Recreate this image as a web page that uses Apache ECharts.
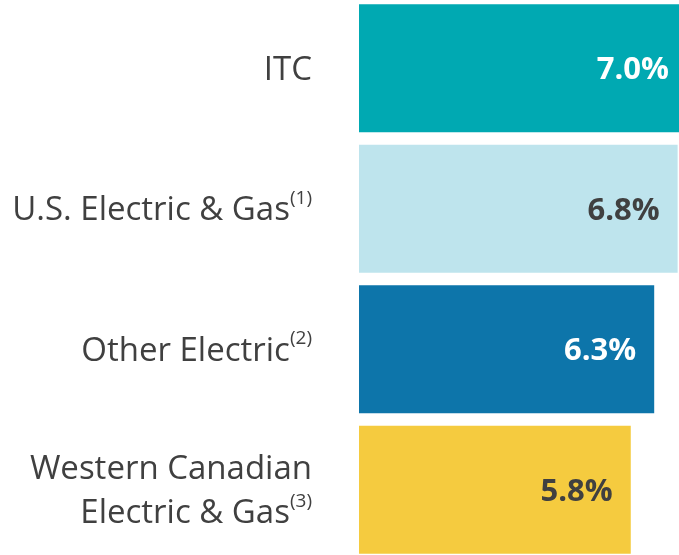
<!DOCTYPE html>
<html>
<head>
<meta charset="utf-8">
<script src="https://cdn.jsdelivr.net/npm/echarts@6/dist/echarts.min.js"></script>
<style>html,body{margin:0;padding:0;background:#fff}#c{width:679px;height:555px}</style>
</head>
<body>
<div id="c"></div>
<script>
const categories = ['ITC', 'U.S. Electric & Gas', 'Other Electric', 'Western Canadian\nElectric & Gas'];
const notes = ['', '(1)', '(2)', '(3)'];
const values = [7.0, 6.8, 6.3, 5.8];
const barColors = ['#00A9B2', '#BEE4ED', '#0D75AA', '#F5CB3F'];
const labelColors = ['#FFFFFF', '#404040', '#FFFFFF', '#404040'];

const chart = echarts.init(document.getElementById('c'));
chart.setOption({
  animation: false,
  backgroundColor: '#fff',
  grid: { left: 359, right: -8, top: -2, bottom: -5, containLabel: false, outerBoundsMode: 'none' },
  xAxis: { type: 'value', min: 0, max: 7, show: false },
  yAxis: {
    type: 'category', inverse: true, data: categories,
    axisLine: { show: false }, axisTick: { show: false },
    axisLabel: {
      margin: 47,
      padding: [4, 0, 0, 0],
      formatter: function (v, i) {
        const lines = v.split('\n');
        const note = notes[i];
        return lines.map(function (l, k) {
          let s = '{a|' + l + '}';
          if (k === lines.length - 1 && note) s += '{s|' + note + '}';
          return s;
        }).join('\n');
      },
      rich: {
        a: { fontFamily: 'Open Sans', fontSize: 33, color: '#404040', lineHeight: 44, align: 'right' },
        s: { fontFamily: 'Open Sans', fontSize: 19, color: '#404040', lineHeight: 31, verticalAlign: 'top', align: 'right' }
      }
    }
  },
  series: [{
    type: 'bar',
    barWidth: 128,
    clip: false,
    data: values.map(function (v, i) {
      return {
        value: v,
        itemStyle: { color: barColors[i] },
        label: { color: labelColors[i] }
      };
    }),
    label: {
      show: true, position: 'insideRight', distance: 18,
      offset: [0, 2],
      fontFamily: 'Open Sans', fontWeight: 'bold', fontSize: 31,
      formatter: function (p) { return p.value.toFixed(1) + '%'; }
    }
  }]
});
</script>
</body>
</html>
